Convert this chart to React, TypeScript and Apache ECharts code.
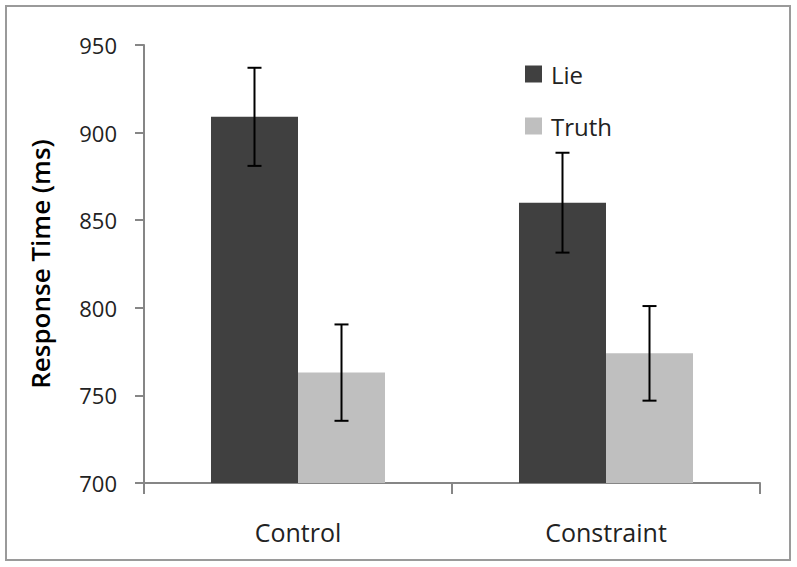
import React, { useEffect, useRef } from "react";
import * as echarts from "echarts";

const categories = ["Control", "Constraint"];
const seriesNames = ["Lie", "Truth"];
const lieValues = [909, 860];
const truthValues = [763, 774];
const lieErrors = [28, 28.5];
const truthErrors = [27.5, 27];
const yTicks = { min: 700, max: 950, interval: 50 };

const FONT = "'Open Sans', Lato, sans-serif";
const GAP = 0.435;

export default function App() {
  const ref = useRef<HTMLDivElement>(null);
  useEffect(() => {
    if (!ref.current) return;
    const chart = echarts.init(ref.current, null, { renderer: "svg" });
    const makeErr = (vals: number[], errs: number[], side: number, name: string) => ({
      type: "custom",
      name: name + " error",
      z: 10,
      data: vals.map((v, i) => [i, v - errs[i], v + errs[i]]),
      renderItem: (params: any, api: any) => {
        const idx = api.value(0);
        const lo = api.coord([idx, api.value(1)]);
        const hi = api.coord([idx, api.value(2)]);
        const band = api.size([1, 0])[0];
        const barW = (band * (1 - GAP)) / 2;
        const x = lo[0] + side * barW / 2;
        const cap = 7;
        const style = { stroke: "#000", lineWidth: 2 };
        return {
          type: "group",
          children: [
            { type: "line", shape: { x1: x, y1: lo[1], x2: x, y2: hi[1] }, style },
            { type: "line", shape: { x1: x - cap, y1: lo[1], x2: x + cap, y2: lo[1] }, style },
            { type: "line", shape: { x1: x - cap, y1: hi[1], x2: x + cap, y2: hi[1] }, style },
          ],
        };
      },
    });
    chart.setOption({
      animation: false,
      backgroundColor: "#fff",
      textStyle: { fontFamily: FONT },
      graphic: [
        {
          type: "rect",
          shape: { x: 6, y: 6, width: 784, height: 554 },
          style: { fill: "none", stroke: "#9a9a9a", lineWidth: 2 },
          silent: true,
        },
      ],
      grid: { left: 144, right: 37, top: 45, bottom: 84 },
      legend: {
        data: seriesNames,
        orient: "vertical",
        left: 520,
        top: 57,
        itemWidth: 17,
        itemHeight: 17,
        itemGap: 28,
        icon: "rect",
        textStyle: { fontSize: 24, color: "#222", fontFamily: FONT, padding: [0, 0, 0, 4] },
      },
      xAxis: {
        type: "category",
        data: categories,
        axisLine: { lineStyle: { color: "#868686", width: 2 } },
        axisTick: { show: true, length: 11, lineStyle: { color: "#868686", width: 2 } },
        axisLabel: { fontSize: 25, color: "#222", margin: 36, fontFamily: FONT },
      },
      yAxis: {
        type: "value",
        min: yTicks.min,
        max: yTicks.max,
        interval: yTicks.interval,
        name: "Response Time (ms)",
        nameLocation: "middle",
        nameGap: 91,
        nameRotate: 90,
        nameTextStyle: { fontSize: 26, color: "#000", fontFamily: FONT, fontWeight: 600 },
        splitLine: { show: false },
        axisLine: { show: true, lineStyle: { color: "#868686", width: 2 } },
        axisTick: { show: true, length: 9, lineStyle: { color: "#868686", width: 2 } },
        axisLabel: { fontSize: 22, color: "#222", margin: 27, fontFamily: FONT },
      },
      series: [
        {
          type: "bar",
          name: "Lie",
          data: lieValues,
          barGap: "0%",
          barCategoryGap: GAP * 100 + "%",
          itemStyle: { color: "#404040" },
        },
        {
          type: "bar",
          name: "Truth",
          data: truthValues,
          itemStyle: { color: "#bfbfbf" },
        },
        makeErr(lieValues, lieErrors, -1, "Lie"),
        makeErr(truthValues, truthErrors, 1, "Truth"),
      ],
    });
    return () => chart.dispose();
  }, []);
  return (
    <div
      ref={ref}
      style={{ position: "absolute", left: 0, top: 0, width: 797, height: 567 }}
    />
  );
}
